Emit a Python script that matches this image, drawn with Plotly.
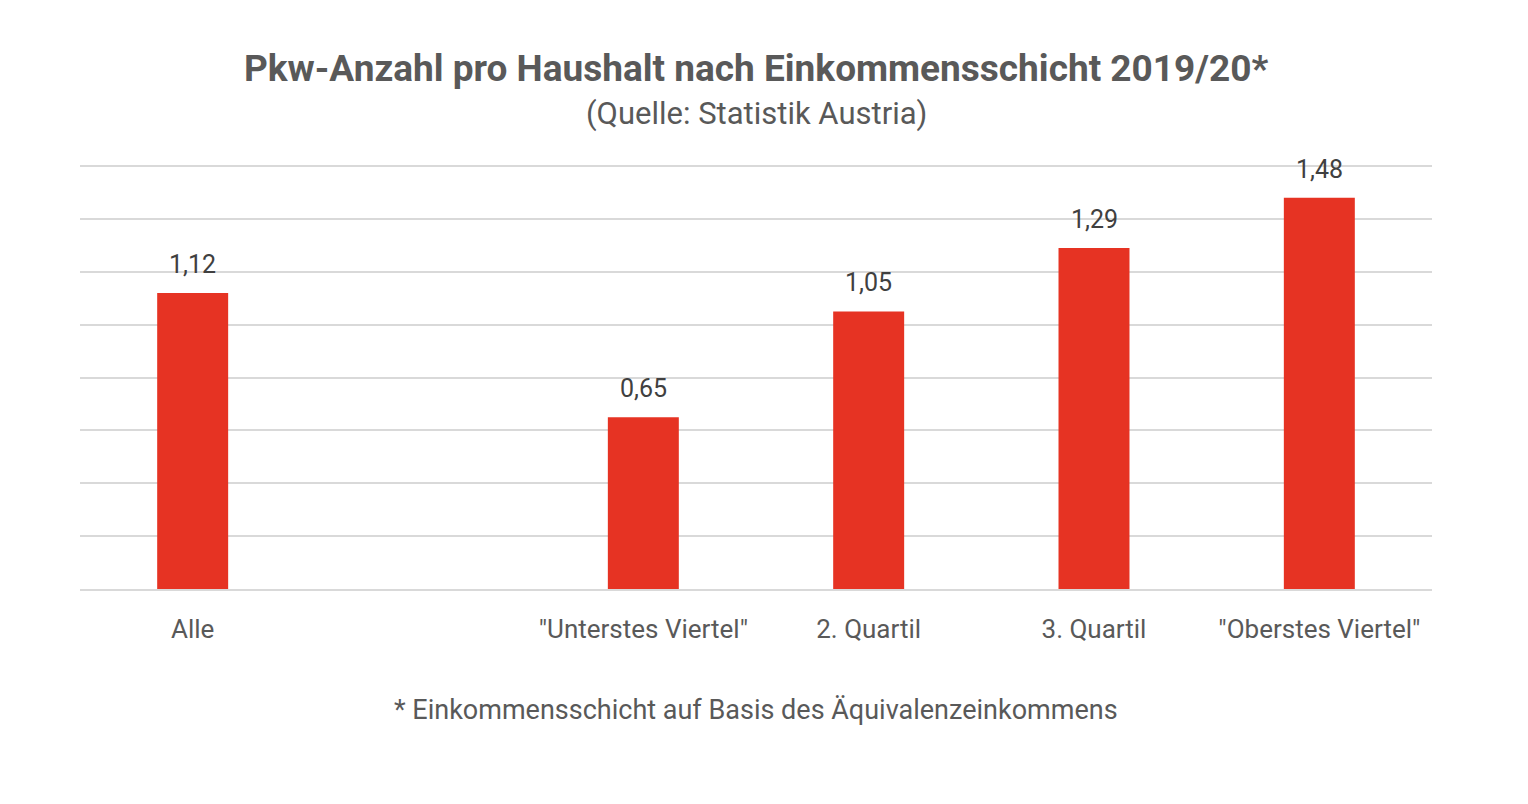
import plotly.graph_objects as go

categories = ["Alle", " ", '"Unterstes Viertel"', "2. Quartil", "3. Quartil", '"Oberstes Viertel"']
values = [1.12, None, 0.65, 1.05, 1.29, 1.48]
gridlines = [0.2, 0.4, 0.6, 0.8, 1.0, 1.2, 1.4, 1.6]
title_text = "Pkw-Anzahl pro Haushalt nach Einkommensschicht 2019/20*"
subtitle_text = "(Quelle: Statistik Austria)"
footnote_text = "* Einkommensschicht auf Basis des Äquivalenzeinkommens"

BAR = "#e63323"
FONT = "Roboto"

fig = go.Figure()
fig.add_trace(go.Bar(
    x=categories, y=values, marker_color=BAR, marker_line_width=0,
    hoverinfo="skip", cliponaxis=False,
))

annotations = []
for c, v in zip(categories, values):
    if v is None:
        continue
    annotations.append(dict(
        x=c, y=v, xref="x", yref="y", text=f"{v:.2f}".replace(".", ","),
        showarrow=False, yanchor="bottom", yshift=12,
        font=dict(family=FONT, size=25, color="#404040"),
    ))

annotations += [
    dict(x=0.5, y=1.217, xref="paper", yref="paper", text=f"<b>{title_text}</b>",
         showarrow=False, xanchor="center", yanchor="middle",
         font=dict(family=FONT, size=37, color="#595959")),
    dict(x=0.5, y=1.110, xref="paper", yref="paper", text=subtitle_text,
         showarrow=False, xanchor="center", yanchor="middle",
         font=dict(family=FONT, size=31, color="#595959")),
    dict(x=0.5, y=-0.283, xref="paper", yref="paper", text=footnote_text,
         showarrow=False, xanchor="center", yanchor="middle",
         font=dict(family=FONT, size=27, color="#595959")),
]

fig.update_layout(
    width=1528, height=804,
    margin=dict(l=72, r=104, t=153, b=223),
    paper_bgcolor="white", plot_bgcolor="white",
    bargap=0.685, showlegend=False,
    annotations=annotations,
    font=dict(family=FONT),
)
fig.update_xaxes(
    type="category", showgrid=False, showline=True, linecolor="#d9d9d9", linewidth=2,
    ticks="outside", ticklen=16, tickcolor="rgba(0,0,0,0)",
    tickfont=dict(family=FONT, size=26, color="#595959"),
)
fig.update_yaxes(
    range=[0, 1.619], tickvals=gridlines,
    showgrid=True, gridcolor="#d9d9d9", gridwidth=2,
    showticklabels=False, zeroline=False, showline=False,
)

fig.write_html("out.html")
